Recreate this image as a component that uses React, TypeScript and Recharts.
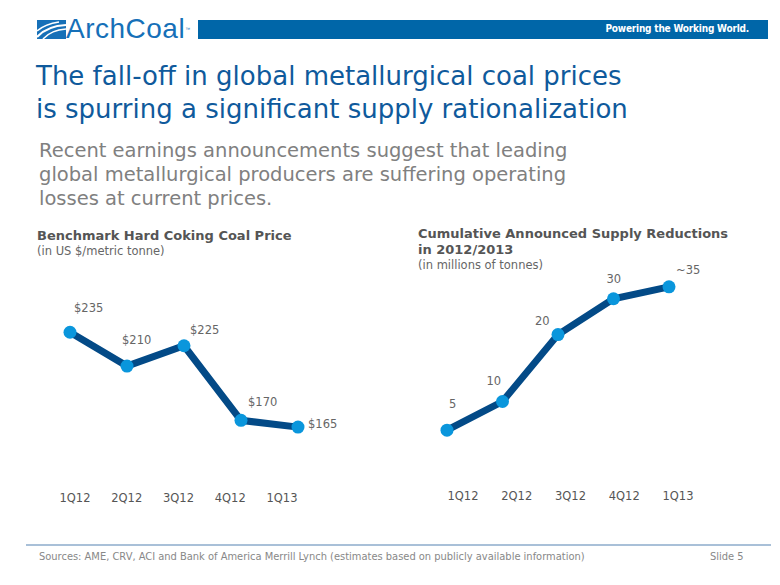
import React from 'react';
import { LineChart, Line, XAxis, YAxis, LabelList } from 'recharts';

const QUARTERS = ['1Q12', '2Q12', '3Q12', '4Q12', '1Q13'];

// Benchmark hard coking coal price, US $/metric tonne
const PRICE_VALUES = [235, 210, 225, 170, 165];
const PRICE_LABELS = ['$235', '$210', '$225', '$170', '$165'];

// Cumulative announced supply reductions (line height as drawn on the slide)
const SUPPLY_VALUES = [5, 11, 25, 32.5, 35];
const SUPPLY_LABELS = ['5', '10', '20', '30', '~35'];

const LINE_COLOR = '#034a87';
const DOT_COLOR = '#0a96dc';
const TEXT_GRAY = '#666666';
const TITLE_BLUE = '#0f5a9c';
const FONT = '"DejaVu Sans", Verdana, sans-serif';
const CONDENSED = '"DejaVu Sans Condensed", "DejaVu Sans", sans-serif';

// label offsets relative to each point
const PRICE_OFFSETS = [[4, -20], [-5, -22], [6, -12], [7, -14], [10, 1]];
const SUPPLY_OFFSETS = [[2, -22], [-16, -17], [-23, -10], [-7, -16], [7, -13]];

const priceData = QUARTERS.map((q, i) => ({ q, value: PRICE_VALUES[i], label: PRICE_LABELS[i] }));
const supplyData = QUARTERS.map((q, i) => ({ q, value: SUPPLY_VALUES[i], label: SUPPLY_LABELS[i] }));

function makeLabel(offsets: number[][]) {
  return (props: any) => {
    const { x, y, index, value } = props;
    const [dx, dy] = offsets[index] || [0, -12];
    return (
      <text x={x + dx} y={y + dy} fill={TEXT_GRAY} fontSize={11.5} fontFamily={FONT} textAnchor="start">
        {value}
      </text>
    );
  };
}

function ChartTitle({ lines, sub, left, top }: { lines: string[]; sub: string; left: number; top: number }) {
  return (
    <div style={{ position: 'absolute', left, top, fontFamily: FONT, color: '#555' }}>
      {lines.map((l) => (
        <div key={l} style={{ fontSize: 13, fontWeight: 'bold', lineHeight: '16px' }}>{l}</div>
      ))}
      <div style={{ fontSize: 11.5, lineHeight: '14px', color: TEXT_GRAY }}>{sub}</div>
    </div>
  );
}

export default function App() {
  return (
    <div style={{ position: 'absolute', left: 0, top: 0, width: 780, height: 585, background: '#fff', overflow: 'hidden' }}>
      {/* header */}
      <svg style={{ position: 'absolute', left: 37, top: 20 }} width={29} height={19}>
        <rect x={0} y={0} width={29} height={19} fill="#1670b8" />
        <path d="M0 17 Q10 6 29 5" stroke="#fff" strokeWidth={2} fill="none" />
        <path d="M6 19 Q14 10 29 9" stroke="#fff" strokeWidth={1.6} fill="none" />
        <path d="M0 11 Q8 4 22 2" stroke="#fff" strokeWidth={1.4} fill="none" />
      </svg>
      <div style={{ position: 'absolute', left: 66, top: 14, fontFamily: '"Liberation Sans", Arial, sans-serif', fontSize: 28, lineHeight: '30px', color: '#1670b8', letterSpacing: 0.5 }}>
        ArchCoal<span style={{ fontSize: 5, verticalAlign: 'top' }}>™</span>
      </div>
      <div style={{ position: 'absolute', left: 198, top: 20, width: 570, height: 19, background: '#0066a8' }}>
        <div style={{ position: 'absolute', right: 19, top: 3, color: '#fff', fontFamily: CONDENSED, fontSize: 10, fontWeight: 'bold', letterSpacing: -0.2 }}>
          Powering the Working World.
        </div>
      </div>

      {/* title */}
      <div style={{ position: 'absolute', left: 36, top: 60, fontFamily: FONT, fontSize: 26, color: TITLE_BLUE, lineHeight: '33px' }}>
        <div>The fall-off in global metallurgical coal prices</div>
        <div>is spurring a significant supply rationalization</div>
      </div>
      <div style={{ position: 'absolute', left: 39, top: 139, fontFamily: FONT, fontSize: 19.5, color: '#808080', lineHeight: '24px' }}>
        <div>Recent earnings announcements suggest that leading</div>
        <div>global metallurgical producers are suffering operating</div>
        <div>losses at current prices.</div>
      </div>

      {/* left chart */}
      <ChartTitle lines={['Benchmark Hard Coking Coal Price']} sub="(in US $/metric tonne)" left={37} top={228} />
      <div style={{ position: 'absolute', left: 30, top: 270 }}>
        <LineChart width={350} height={239} data={priceData} margin={{ top: 8, right: 0, bottom: 0, left: 0 }}>
          <XAxis xAxisId="line" dataKey="q" hide padding={{ left: 40, right: 82 }} />
          <XAxis
            xAxisId="labels"
            dataKey="q"
            height={48}
            axisLine={false}
            tickLine={false}
            tickSize={0}
            tickMargin={33}
            padding={{ left: 45, right: 98 }}
            tick={{ fill: '#555', fontSize: 11.5, fontFamily: FONT }}
          />
          <YAxis hide domain={[140, 275]} />
          <Line
            xAxisId="line"
            dataKey="value"
            stroke={LINE_COLOR}
            strokeWidth={7}
            dot={{ r: 6.5, fill: DOT_COLOR, stroke: 'none' }}
            activeDot={false}
            isAnimationActive={false}
          >
            <LabelList dataKey="label" content={makeLabel(PRICE_OFFSETS)} />
          </Line>
        </LineChart>
      </div>

      {/* right chart */}
      <ChartTitle lines={['Cumulative Announced Supply Reductions', 'in 2012/2013']} sub="(in millions of tonnes)" left={418} top={226} />
      <div style={{ position: 'absolute', left: 400, top: 230 }}>
        <LineChart width={340} height={281} data={supplyData} margin={{ top: 9, right: 0, bottom: 0, left: 0 }}>
          <XAxis xAxisId="line" dataKey="q" hide padding={{ left: 47, right: 71 }} />
          <XAxis
            xAxisId="labels"
            dataKey="q"
            height={33}
            axisLine={false}
            tickLine={false}
            tickSize={0}
            tickMargin={14}
            padding={{ left: 63, right: 62 }}
            tick={{ fill: '#555', fontSize: 11.5, fontFamily: FONT }}
          />
          <YAxis hide domain={[-5, 45]} />
          <Line
            xAxisId="line"
            dataKey="value"
            stroke={LINE_COLOR}
            strokeWidth={7}
            dot={{ r: 6.5, fill: DOT_COLOR, stroke: 'none' }}
            activeDot={false}
            isAnimationActive={false}
          >
            <LabelList dataKey="label" content={makeLabel(SUPPLY_OFFSETS)} />
          </Line>
        </LineChart>
      </div>

      {/* footer */}
      <div style={{ position: 'absolute', left: 26, top: 544, width: 745, height: 2, background: '#a9c0d8' }} />
      <div style={{ position: 'absolute', left: 39, top: 550, fontFamily: CONDENSED, fontSize: 11, color: '#888' }}>
        Sources: AME, CRV, ACI and Bank of America Merrill Lynch (estimates based on publicly available information)
      </div>
      <div style={{ position: 'absolute', left: 710, top: 550, fontFamily: CONDENSED, fontSize: 11, color: '#888' }}>
        Slide 5
      </div>
    </div>
  );
}
